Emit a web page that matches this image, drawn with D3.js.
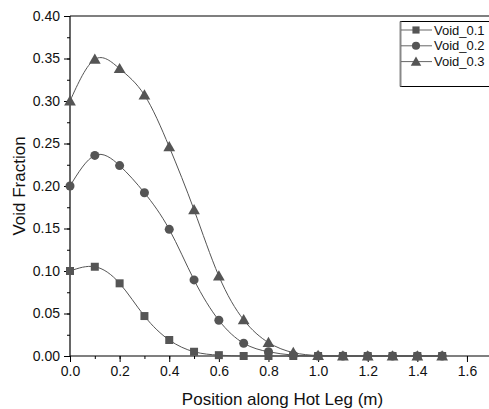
<!DOCTYPE html>
<html>
<head>
<meta charset="utf-8">
<script src="https://cdn.jsdelivr.net/npm/d3@7"></script>
<style>
  body { margin: 0; background: #fff; }
  svg { display: block; font-family: Arial, "Liberation Sans", sans-serif; }
</style>
</head>
<body>
<svg id="chart" width="489" height="409"></svg>
<script>
const positions = [0.0, 0.1, 0.2, 0.3, 0.4, 0.5, 0.6, 0.7, 0.8, 0.9, 1.0, 1.1, 1.2, 1.3, 1.4, 1.5];
const void01 = [0.100, 0.105, 0.0855, 0.047, 0.0188, 0.005, 0.001, 0, 0, 0, 0, 0, 0, 0, 0, 0];
const void02 = [0.200, 0.236, 0.224, 0.192, 0.149, 0.0895, 0.042, 0.015, 0.005, 0.001, 0, 0, 0, 0, 0, 0];
const void03 = [0.300, 0.349, 0.338, 0.307, 0.246, 0.172, 0.094, 0.0425, 0.0158, 0.004, 0.0005, 0, 0, 0, 0, 0];
const seriesNames = ["Void_0.1", "Void_0.2", "Void_0.3"];
const seriesSymbols = ["square", "circle", "triangle"];
const xTickLabels = ["0.0", "0.2", "0.4", "0.6", "0.8", "1.0", "1.2", "1.4", "1.6"];
const yTickLabels = ["0.00", "0.05", "0.10", "0.15", "0.20", "0.25", "0.30", "0.35", "0.40"];

const margin = { top: 16, left: 70, bottom: 53 };
const svg = d3.select("#chart");
const W = 489, H = 409;
const ink = "#555";

const x = d3.scaleLinear().domain([0, 1.7]).range([margin.left, margin.left + 1.7 * 248.1]);
const y = d3.scaleLinear().domain([0, 0.4]).range([H - margin.bottom, margin.top]);

// frame top
svg.append("line").attr("x1", margin.left).attr("x2", W).attr("y1", y(0.4)).attr("y2", y(0.4))
  .attr("stroke", "#000").attr("stroke-width", 1.2);

// x axis
const xMinor = d3.range(0, 1.75, 0.1).map(d => +d.toFixed(1));
const xAxis = svg.append("g").attr("transform", `translate(0,${y(0)})`);
xAxis.append("g").call(d3.axisBottom(x).tickValues(xMinor).tickSize(3).tickFormat(""))
  .call(g => g.select(".domain").remove());
xAxis.append("g").call(d3.axisBottom(x).tickValues(xTickLabels.map(Number)).tickSize(6).tickPadding(4)
  .tickFormat((d, i) => xTickLabels[i]))
  .call(g => g.select(".domain").attr("d", `M${margin.left},0H${W}`).attr("stroke-width", 1.2))
  .call(g => g.selectAll("text").attr("font-size", 14).attr("fill", "#111").attr("font-family", null));
xAxis.selectAll(".tick line").attr("stroke", "#000");

// y axis
const yMinor = d3.range(0, 0.401, 0.025);
const yAxis = svg.append("g").attr("transform", `translate(${margin.left},0)`);
yAxis.append("g").call(d3.axisLeft(y).tickValues(yMinor).tickSize(3).tickFormat(""))
  .call(g => g.select(".domain").remove());
yAxis.append("g").call(d3.axisLeft(y).tickValues(yTickLabels.map(Number)).tickSize(6).tickPadding(4)
  .tickFormat((d, i) => yTickLabels[i]))
  .call(g => g.select(".domain").attr("d", `M0,${y(0)}V${y(0.4)}`).attr("stroke-width", 1.2))
  .call(g => g.selectAll("text").attr("font-size", 14).attr("fill", "#111").attr("font-family", null));

// titles
svg.append("text").attr("x", (x(0) + W) / 2 + 3).attr("y", 405).attr("text-anchor", "middle")
  .attr("font-size", 17).attr("fill", "#111").text("Position along Hot Leg (m)");
svg.append("text").attr("transform", `translate(25,${(y(0) + y(0.4)) / 2}) rotate(-90)`)
  .attr("text-anchor", "middle").attr("font-size", 17).attr("fill", "#111").text("Void Fraction");

const allSeries = [void01, void02, void03];
const line = d3.line().x(d => x(d[0])).y(d => y(d[1])).curve(d3.curveNatural);
const symbolType = { square: d3.symbolSquare, circle: d3.symbolCircle, triangle: d3.symbolTriangle };
const symbolSize = { square: 64, circle: 64, triangle: 60 };

allSeries.forEach((vals, i) => {
  const pts = positions.map((p, j) => [p, vals[j]]);
  svg.append("path").datum(pts).attr("d", line).attr("fill", "none")
    .attr("stroke", ink).attr("stroke-width", 1);
  const sym = seriesSymbols[i];
  svg.append("g").selectAll("path").data(pts).join("path")
    .attr("transform", d => `translate(${x(d[0])},${y(d[1]) + (sym === "triangle" ? 1 : 0)})`)
    .attr("d", d3.symbol().type(symbolType[sym]).size(symbolSize[sym]))
    .attr("fill", ink);
});

// legend
const lg = svg.append("g");
lg.append("rect").attr("x", 400.5).attr("y", 21.5).attr("width", 89).attr("height", 65)
  .attr("fill", "#fff").attr("stroke", "#000").attr("stroke-width", 1);
lg.append("line").attr("x1", 400.5).attr("x2", 400.5).attr("y1", 21.5).attr("y2", 86.5)
  .attr("stroke", "#888").attr("stroke-width", 2);
seriesNames.forEach((name, i) => {
  const yy = 30 + i * 15.8;
  lg.append("line").attr("x1", 401).attr("x2", 432).attr("y1", yy).attr("y2", yy)
    .attr("stroke", "#666").attr("stroke-width", 1);
  const sym = seriesSymbols[i];
  lg.append("path").attr("transform", `translate(416,${yy + (sym === "triangle" ? 1 : 0)})`)
    .attr("d", d3.symbol().type(symbolType[sym]).size(symbolSize[sym] * 0.8)).attr("fill", ink);
  lg.append("text").attr("x", 434).attr("y", yy + 4.5).attr("font-size", 13).attr("fill", "#111").text(name);
});
</script>
</body>
</html>
